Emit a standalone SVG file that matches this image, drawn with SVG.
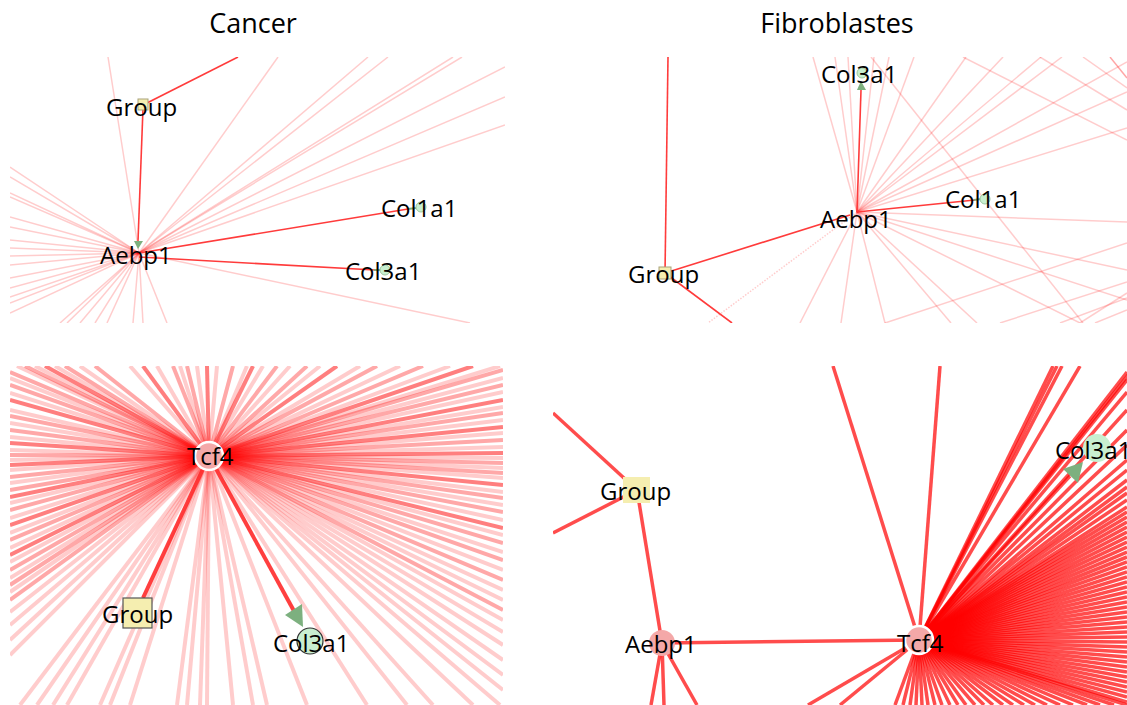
<svg xmlns="http://www.w3.org/2000/svg" width="1127" height="705" viewBox="0 0 1127 705">
<style>
.lbl{font-family:"Open Sans","Liberation Sans",sans-serif;font-size:24px;fill:#000}
.ttl{font-family:"Open Sans","Liberation Sans",sans-serif;font-size:27px;fill:#000;text-anchor:middle}
.lt{stroke:#ff0000;stroke-opacity:.2;stroke-width:1.5;fill:none}
.st{stroke:#ff3b3b;stroke-width:1.6;fill:none}
.ta{stroke:#ff0000;stroke-opacity:.2;stroke-width:4}
.tb{stroke:#ff0000;stroke-opacity:.34;stroke-width:4}
.tc{stroke:#ff0000;stroke-opacity:.5;stroke-width:4}
.ts{stroke:#ff2a2a;stroke-opacity:.9;stroke-width:4}
.p4{stroke:#ff0000;stroke-opacity:.7;stroke-width:3.5}
.grp{fill:#f5eeb0}
.gene{fill:#c8efd0}
.hub{fill:#f4a8a8}
.arr{fill:#7db07f}
</style>
<defs>
<clipPath id="c1"><rect x="10" y="57" width="495" height="266"/></clipPath>
<clipPath id="c2"><rect x="553" y="57" width="574" height="266"/></clipPath>
<clipPath id="c3"><rect x="10" y="366" width="493" height="339"/></clipPath>
<clipPath id="c4"><rect x="553" y="366" width="574" height="339"/></clipPath>
</defs>
<rect width="1127" height="705" fill="#fff"/>
<text class="ttl" x="253" y="33">Cancer</text>
<text class="ttl" x="837" y="33">Fibroblastes</text>

<!-- Panel 1 connectors -->
<g id="p1-connectors" clip-path="url(#c1)">
<g class="lt">
<line x1="139" y1="253" x2="108" y2="57"/><line x1="139" y1="253" x2="278" y2="57"/>
<line x1="139" y1="253" x2="368" y2="57"/><line x1="139" y1="253" x2="388" y2="57"/>
<line x1="139" y1="253" x2="453" y2="57"/><line x1="139" y1="253" x2="462" y2="57"/>
<line x1="139" y1="253" x2="505" y2="67"/><line x1="139" y1="253" x2="505" y2="97"/>
<line x1="139" y1="253" x2="505" y2="125"/>
<line x1="139" y1="253" x2="10" y2="167"/><line x1="139" y1="253" x2="10" y2="177"/>
<line x1="139" y1="253" x2="10" y2="193"/><line x1="139" y1="253" x2="10" y2="197"/>
<line x1="139" y1="253" x2="10" y2="217"/><line x1="139" y1="253" x2="10" y2="227"/>
<line x1="139" y1="253" x2="10" y2="240"/><line x1="139" y1="253" x2="10" y2="248"/>
<line x1="139" y1="253" x2="10" y2="256"/><line x1="139" y1="253" x2="10" y2="265"/>
<line x1="139" y1="253" x2="10" y2="278"/><line x1="139" y1="253" x2="10" y2="288"/>
<line x1="139" y1="253" x2="10" y2="297"/><line x1="139" y1="253" x2="10" y2="303"/>
<line x1="139" y1="253" x2="10" y2="313"/>
<line x1="139" y1="253" x2="60" y2="323"/><line x1="139" y1="253" x2="67" y2="323"/>
<line x1="139" y1="253" x2="80" y2="323"/><line x1="139" y1="253" x2="95" y2="323"/>
<line x1="139" y1="253" x2="107" y2="323"/><line x1="139" y1="253" x2="133" y2="323"/>
<line x1="139" y1="253" x2="143" y2="323"/><line x1="139" y1="253" x2="167" y2="323"/>
<line x1="139" y1="253" x2="470" y2="323"/>
</g>
<line class="st" x1="143" y1="105" x2="238" y2="57"/>
<line class="st" x1="143" y1="108" x2="138" y2="241"/>
<line class="st" x1="139" y1="253" x2="408" y2="209"/>
<line class="st" x1="139" y1="257" x2="375" y2="270"/>
<polygon class="arr" points="134,241 143,241 138,249"/>
<line x1="408" y1="209" x2="416" y2="208" stroke="#7db07f" stroke-width="2"/>
<line x1="374" y1="270" x2="381" y2="270" stroke="#7db07f" stroke-width="2"/>
</g>
<g id="p1-group"><rect class="grp" x="138" y="99" width="10" height="11" stroke="#a9a27a" stroke-width="1"/><text class="lbl" x="106" y="116">Group</text></g>
<g id="p1-aebp1"><text class="lbl" x="100" y="264">Aebp1</text></g>
<g id="p1-col1a1"><circle class="gene" cx="421" cy="207" r="5" stroke="#9cc79f" stroke-width="1"/><text class="lbl" x="381" y="217">Col1a1</text></g>
<g id="p1-col3a1"><circle class="gene" cx="385" cy="270" r="5" stroke="#9cc79f" stroke-width="1"/><text class="lbl" x="345" y="280">Col3a1</text></g>

<!-- Panel 2 connectors -->
<g id="p2-connectors" clip-path="url(#c2)">
<g class="lt">
<line x1="857" y1="212" x2="813" y2="57"/><line x1="857" y1="212" x2="835" y2="57"/>
<line x1="857" y1="212" x2="848" y2="57"/><line x1="857" y1="212" x2="874" y2="57"/>
<line x1="857" y1="212" x2="889" y2="57"/><line x1="857" y1="212" x2="914" y2="57"/>
<line x1="857" y1="212" x2="966" y2="57"/><line x1="857" y1="212" x2="1003" y2="57"/>
<line x1="857" y1="212" x2="1041" y2="57"/><line x1="857" y1="212" x2="1062" y2="57"/>
<line x1="857" y1="212" x2="1127" y2="62"/><line x1="857" y1="212" x2="1127" y2="92"/>
<line x1="857" y1="212" x2="1127" y2="128"/><line x1="857" y1="212" x2="1127" y2="222"/>
<line x1="857" y1="212" x2="1127" y2="270"/><line x1="857" y1="212" x2="1127" y2="300"/>
<line x1="857" y1="212" x2="1080" y2="323"/><line x1="857" y1="212" x2="977" y2="323"/>
<line x1="857" y1="212" x2="951" y2="323"/><line x1="857" y1="212" x2="885" y2="323"/>
<line x1="857" y1="212" x2="841" y2="323"/><line x1="857" y1="212" x2="800" y2="323"/>
<line x1="963" y1="57" x2="1127" y2="140"/><line x1="1040" y1="57" x2="1127" y2="110"/>
<line x1="1083" y1="57" x2="1127" y2="88"/><line x1="871" y1="57" x2="1083" y2="323"/>
<line x1="885" y1="323" x2="1127" y2="243"/><line x1="1000" y1="323" x2="1127" y2="282"/>
<line x1="1060" y1="323" x2="1127" y2="298"/><line x1="1095" y1="323" x2="1127" y2="310"/>
<line x1="1080" y1="323" x2="1127" y2="293"/>
</g>
<line class="lt" x1="857" y1="212" x2="708" y2="323" stroke-dasharray="1.5 1.5"/>
<line x1="1110" y1="57" x2="1127" y2="78" stroke="#ff0000" stroke-opacity=".35" stroke-width="1.5"/>
<line class="st" x1="665" y1="273" x2="668" y2="57"/>
<line class="st" x1="665" y1="273" x2="850" y2="215"/>
<line class="st" x1="665" y1="273" x2="732" y2="323"/>
<line class="st" x1="857" y1="212" x2="861" y2="90"/>
<line class="st" x1="857" y1="212" x2="975" y2="200"/>
<polygon class="arr" points="857,90 866,90 861,81"/>
<line x1="974" y1="200" x2="981" y2="199" stroke="#7db07f" stroke-width="2"/>
</g>
<g id="p2-group"><rect class="grp" x="659" y="267" width="12" height="12" stroke="#a9a27a" stroke-width="1"/><text class="lbl" x="628" y="283">Group</text></g>
<g id="p2-aebp1"><text class="lbl" x="820" y="228">Aebp1</text></g>
<g id="p2-col1a1"><circle class="gene" cx="985" cy="199" r="5" stroke="#9cc79f" stroke-width="1"/><text class="lbl" x="945" y="208">Col1a1</text></g>
<g id="p2-col3a1"><circle class="gene" cx="862" cy="73" r="5" stroke="#9cc79f" stroke-width="1"/><text class="lbl" x="821" y="83">Col3a1</text></g>

<!-- Panel 3 connectors -->
<g id="p3-connectors" clip-path="url(#c3)">
<line class="ta" x1="209" y1="456" x2="17" y2="366"/><line class="tb" x1="209" y1="456" x2="25" y2="366"/>
<line class="ta" x1="209" y1="456" x2="35" y2="366"/><line class="tc" x1="209" y1="456" x2="45" y2="366"/>
<line class="ta" x1="209" y1="456" x2="55" y2="366"/><line class="tb" x1="209" y1="456" x2="65" y2="366"/>
<line class="ta" x1="209" y1="456" x2="80" y2="366"/><line class="tb" x1="209" y1="456" x2="95" y2="366"/>
<line class="ta" x1="209" y1="456" x2="130" y2="366"/><line class="tc" x1="209" y1="456" x2="143" y2="366"/>
<line class="ta" x1="209" y1="456" x2="157" y2="366"/><line class="tb" x1="209" y1="456" x2="173" y2="366"/>
<line class="ta" x1="209" y1="456" x2="180" y2="366"/><line class="tb" x1="209" y1="456" x2="187" y2="366"/>
<line class="ta" x1="209" y1="456" x2="197" y2="366"/><line class="tc" x1="209" y1="456" x2="207" y2="366"/>
<line class="ta" x1="209" y1="456" x2="217" y2="366"/><line class="tb" x1="209" y1="456" x2="233" y2="366"/>
<line class="ta" x1="209" y1="456" x2="247" y2="366"/><line class="tc" x1="209" y1="456" x2="253" y2="366"/>
<line class="ta" x1="209" y1="456" x2="263" y2="366"/><line class="tb" x1="209" y1="456" x2="277" y2="366"/>
<line class="ta" x1="209" y1="456" x2="290" y2="366"/><line class="tb" x1="209" y1="456" x2="307" y2="366"/>
<line class="ta" x1="209" y1="456" x2="320" y2="366"/><line class="tc" x1="209" y1="456" x2="337" y2="366"/>
<line class="ta" x1="209" y1="456" x2="360" y2="366"/><line class="tb" x1="209" y1="456" x2="377" y2="366"/>
<line class="ta" x1="209" y1="456" x2="400" y2="366"/><line class="tb" x1="209" y1="456" x2="423" y2="366"/>
<line class="ta" x1="209" y1="456" x2="450" y2="366"/><line class="tc" x1="209" y1="456" x2="473" y2="366"/>
<line class="ta" x1="209" y1="456" x2="500" y2="366"/>
<line class="tb" x1="209" y1="456" x2="10" y2="372"/><line class="ta" x1="209" y1="456" x2="10" y2="378"/>
<line class="tb" x1="209" y1="456" x2="10" y2="385"/><line class="ta" x1="209" y1="456" x2="10" y2="393"/>
<line class="tc" x1="209" y1="456" x2="10" y2="400"/><line class="ta" x1="209" y1="456" x2="10" y2="410"/>
<line class="tb" x1="209" y1="456" x2="10" y2="416"/><line class="ta" x1="209" y1="456" x2="10" y2="423"/>
<line class="tb" x1="209" y1="456" x2="10" y2="430"/><line class="ta" x1="209" y1="456" x2="10" y2="437"/>
<line class="tc" x1="209" y1="456" x2="10" y2="443"/><line class="ta" x1="209" y1="456" x2="10" y2="450"/>
<line class="tb" x1="209" y1="456" x2="10" y2="455"/><line class="ta" x1="209" y1="456" x2="10" y2="460"/>
<line class="tc" x1="209" y1="456" x2="10" y2="465"/><line class="ta" x1="209" y1="456" x2="10" y2="470"/>
<line class="tb" x1="209" y1="456" x2="10" y2="477"/><line class="ta" x1="209" y1="456" x2="10" y2="483"/>
<line class="tb" x1="209" y1="456" x2="10" y2="490"/><line class="tc" x1="209" y1="456" x2="10" y2="497"/>
<line class="ta" x1="209" y1="456" x2="10" y2="503"/><line class="tb" x1="209" y1="456" x2="10" y2="510"/>
<line class="ta" x1="209" y1="456" x2="10" y2="518"/><line class="tc" x1="209" y1="456" x2="10" y2="525"/>
<line class="ta" x1="209" y1="456" x2="10" y2="533"/><line class="tb" x1="209" y1="456" x2="10" y2="540"/>
<line class="ta" x1="209" y1="456" x2="10" y2="548"/><line class="tc" x1="209" y1="456" x2="10" y2="555"/>
<line class="ta" x1="209" y1="456" x2="10" y2="562"/><line class="tb" x1="209" y1="456" x2="10" y2="570"/>
<line class="ta" x1="209" y1="456" x2="10" y2="578"/><line class="tb" x1="209" y1="456" x2="10" y2="585"/>
<line class="ta" x1="209" y1="456" x2="10" y2="592"/><line class="tb" x1="209" y1="456" x2="10" y2="600"/>
<line class="ta" x1="209" y1="456" x2="10" y2="612"/><line class="ta" x1="209" y1="456" x2="10" y2="625"/>
<line class="ta" x1="209" y1="456" x2="10" y2="640"/><line class="ta" x1="209" y1="456" x2="10" y2="655"/>
<line class="ta" x1="209" y1="456" x2="20" y2="705"/><line class="ta" x1="209" y1="456" x2="37" y2="705"/>
<line class="ta" x1="209" y1="456" x2="53" y2="705"/><line class="ta" x1="209" y1="456" x2="67" y2="705"/>
<line class="ta" x1="209" y1="456" x2="100" y2="705"/><line class="ta" x1="209" y1="456" x2="110" y2="705"/>
<line class="ta" x1="209" y1="456" x2="130" y2="705"/><line class="ta" x1="209" y1="456" x2="177" y2="705"/>
<line class="ta" x1="209" y1="456" x2="187" y2="705"/><line class="ta" x1="209" y1="456" x2="200" y2="705"/>
<line class="ta" x1="209" y1="456" x2="207" y2="705"/><line class="ta" x1="209" y1="456" x2="233" y2="705"/>
<line class="ta" x1="209" y1="456" x2="253" y2="705"/><line class="ta" x1="209" y1="456" x2="267" y2="705"/>
<line class="ta" x1="209" y1="456" x2="307" y2="705"/><line class="ta" x1="209" y1="456" x2="367" y2="705"/>
<line class="ta" x1="209" y1="456" x2="407" y2="705"/><line class="ta" x1="209" y1="456" x2="433" y2="705"/>
<line class="ta" x1="209" y1="456" x2="473" y2="705"/><line class="ta" x1="209" y1="456" x2="500" y2="705"/>
<line class="tb" x1="209" y1="456" x2="503" y2="370"/><line class="ta" x1="209" y1="456" x2="503" y2="378"/>
<line class="tb" x1="209" y1="456" x2="503" y2="385"/><line class="ta" x1="209" y1="456" x2="503" y2="392"/>
<line class="tc" x1="209" y1="456" x2="503" y2="400"/><line class="ta" x1="209" y1="456" x2="503" y2="407"/>
<line class="tb" x1="209" y1="456" x2="503" y2="413"/><line class="ta" x1="209" y1="456" x2="503" y2="420"/>
<line class="tc" x1="209" y1="456" x2="503" y2="427"/><line class="ta" x1="209" y1="456" x2="503" y2="433"/>
<line class="tb" x1="209" y1="456" x2="503" y2="440"/><line class="ta" x1="209" y1="456" x2="503" y2="447"/>
<line class="tc" x1="209" y1="456" x2="503" y2="453"/><line class="ta" x1="209" y1="456" x2="503" y2="458"/>
<line class="tb" x1="209" y1="456" x2="503" y2="463"/><line class="ta" x1="209" y1="456" x2="503" y2="468"/>
<line class="tb" x1="209" y1="456" x2="503" y2="473"/><line class="ta" x1="209" y1="456" x2="503" y2="478"/>
<line class="tc" x1="209" y1="456" x2="503" y2="485"/><line class="ta" x1="209" y1="456" x2="503" y2="492"/>
<line class="tb" x1="209" y1="456" x2="503" y2="498"/><line class="ta" x1="209" y1="456" x2="503" y2="505"/>
<line class="tb" x1="209" y1="456" x2="503" y2="512"/><line class="ta" x1="209" y1="456" x2="503" y2="520"/>
<line class="tc" x1="209" y1="456" x2="503" y2="528"/><line class="ta" x1="209" y1="456" x2="503" y2="535"/>
<line class="tb" x1="209" y1="456" x2="503" y2="543"/><line class="ta" x1="209" y1="456" x2="503" y2="552"/>
<line class="tb" x1="209" y1="456" x2="503" y2="560"/><line class="ta" x1="209" y1="456" x2="503" y2="570"/>
<line class="tb" x1="209" y1="456" x2="503" y2="580"/><line class="ta" x1="209" y1="456" x2="503" y2="590"/>
<line class="ta" x1="209" y1="456" x2="503" y2="600"/><line class="tb" x1="209" y1="456" x2="503" y2="610"/>
<line class="ta" x1="209" y1="456" x2="503" y2="620"/><line class="ta" x1="209" y1="456" x2="503" y2="632"/>
<line class="ta" x1="209" y1="456" x2="503" y2="645"/><line class="ta" x1="209" y1="456" x2="503" y2="660"/>
<line class="ta" x1="209" y1="456" x2="503" y2="675"/><line class="ta" x1="209" y1="456" x2="503" y2="690"/>
<line class="ts" x1="209" y1="456" x2="143" y2="598"/>
<line class="ts" x1="209" y1="456" x2="294" y2="611"/>
<polygon class="arr" points="285,615 302,604 303,627"/>
</g>
<g id="p3-tcf4"><circle class="hub" cx="209" cy="456" r="14" stroke="#fff" stroke-width="2.5"/><text class="lbl" x="187" y="465">Tcf4</text></g>
<g id="p3-group"><rect class="grp" x="123" y="598" width="29" height="30" stroke="#555" stroke-width="1.2"/><text class="lbl" x="102" y="623">Group</text></g>
<g id="p3-col3a1"><circle class="gene" cx="310" cy="641" r="13" stroke="#333" stroke-width="1.2"/><text class="lbl" x="273" y="652">Col3a1</text></g>

<!-- Panel 4 connectors -->
<g id="p4-connectors" clip-path="url(#c4)">
<g class="p4">
<line x1="553" y1="413" x2="637" y2="490"/><line x1="553" y1="533" x2="637" y2="490"/>
<line x1="637" y1="490" x2="662" y2="643"/><line x1="662" y1="643" x2="919" y2="640"/>
<line x1="662" y1="643" x2="651" y2="705"/><line x1="662" y1="643" x2="664" y2="705"/>
<line x1="662" y1="643" x2="697" y2="705"/>
<line x1="919" y1="640" x2="833" y2="366"/><line x1="919" y1="640" x2="940" y2="366"/>
<line x1="919" y1="640" x2="808" y2="705"/><line x1="919" y1="640" x2="840" y2="705"/>
<line x1="919" y1="640" x2="1053" y2="366"/><line x1="919" y1="640" x2="1057" y2="366"/>
<line x1="919" y1="640" x2="1062" y2="366"/><line x1="919" y1="640" x2="1080" y2="366"/>
<line x1="919" y1="640" x2="1140" y2="360"/><line x1="919" y1="640" x2="1127" y2="372"/>
<line x1="919" y1="640" x2="1127" y2="380"/><line x1="919" y1="640" x2="1127" y2="392"/>
<line x1="919" y1="640" x2="1127" y2="410"/><line x1="919" y1="640" x2="1127" y2="430"/>
<line x1="919" y1="640" x2="1127" y2="445"/><line x1="919" y1="640" x2="1127" y2="460"/>
<line x1="919" y1="640" x2="1127" y2="470"/><line x1="919" y1="640" x2="1127" y2="480"/>
<line x1="919" y1="640" x2="1127" y2="487"/>
<line x1="919" y1="640" x2="1127" y2="493"/><line x1="919" y1="640" x2="1127" y2="500"/>
<line x1="919" y1="640" x2="1127" y2="507"/><line x1="919" y1="640" x2="1127" y2="512"/>
<line x1="919" y1="640" x2="1127" y2="517"/><line x1="919" y1="640" x2="1127" y2="522"/>
<line x1="919" y1="640" x2="1127" y2="527"/><line x1="919" y1="640" x2="1127" y2="532"/>
<line x1="919" y1="640" x2="1127" y2="537"/><line x1="919" y1="640" x2="1127" y2="542"/>
<line x1="919" y1="640" x2="1127" y2="547"/><line x1="919" y1="640" x2="1127" y2="552"/>
<line x1="919" y1="640" x2="1127" y2="557"/><line x1="919" y1="640" x2="1127" y2="562"/>
<line x1="919" y1="640" x2="1127" y2="567"/><line x1="919" y1="640" x2="1127" y2="572"/>
<line x1="919" y1="640" x2="1127" y2="577"/><line x1="919" y1="640" x2="1127" y2="582"/>
<line x1="919" y1="640" x2="1127" y2="587"/><line x1="919" y1="640" x2="1127" y2="592"/>
<line x1="919" y1="640" x2="1127" y2="597"/><line x1="919" y1="640" x2="1127" y2="602"/>
<line x1="919" y1="640" x2="1127" y2="607"/><line x1="919" y1="640" x2="1127" y2="612"/>
<line x1="919" y1="640" x2="1127" y2="617"/><line x1="919" y1="640" x2="1127" y2="622"/>
<line x1="919" y1="640" x2="1127" y2="627"/><line x1="919" y1="640" x2="1127" y2="632"/>
<line x1="919" y1="640" x2="1127" y2="637"/><line x1="919" y1="640" x2="1127" y2="642"/>
<line x1="919" y1="640" x2="1127" y2="647"/><line x1="919" y1="640" x2="1127" y2="652"/>
<line x1="919" y1="640" x2="1127" y2="657"/><line x1="919" y1="640" x2="1127" y2="662"/>
<line x1="919" y1="640" x2="1127" y2="667"/><line x1="919" y1="640" x2="1127" y2="672"/>
<line x1="919" y1="640" x2="1127" y2="677"/><line x1="919" y1="640" x2="1127" y2="682"/>
<line x1="919" y1="640" x2="1127" y2="687"/><line x1="919" y1="640" x2="1127" y2="692"/>
<line x1="919" y1="640" x2="1127" y2="697"/><line x1="919" y1="640" x2="1127" y2="702"/>
<line x1="919" y1="640" x2="895" y2="705"/><line x1="919" y1="640" x2="903" y2="705"/>
<line x1="919" y1="640" x2="910" y2="705"/><line x1="919" y1="640" x2="916" y2="705"/>
<line x1="919" y1="640" x2="922" y2="705"/><line x1="919" y1="640" x2="928" y2="705"/>
<line x1="919" y1="640" x2="935" y2="705"/><line x1="919" y1="640" x2="942" y2="705"/>
<line x1="919" y1="640" x2="950" y2="705"/><line x1="919" y1="640" x2="958" y2="705"/>
<line x1="919" y1="640" x2="966" y2="705"/><line x1="919" y1="640" x2="975" y2="705"/>
<line x1="919" y1="640" x2="984" y2="705"/><line x1="919" y1="640" x2="993" y2="705"/>
<line x1="919" y1="640" x2="1003" y2="705"/><line x1="919" y1="640" x2="1013" y2="705"/>
<line x1="919" y1="640" x2="1024" y2="705"/><line x1="919" y1="640" x2="1035" y2="705"/>
<line x1="919" y1="640" x2="1047" y2="705"/><line x1="919" y1="640" x2="1060" y2="705"/>
<line x1="919" y1="640" x2="1073" y2="705"/><line x1="919" y1="640" x2="1087" y2="705"/>
<line x1="919" y1="640" x2="1100" y2="705"/><line x1="919" y1="640" x2="1114" y2="705"/>
<line x1="919" y1="640" x2="1127" y2="705"/>
<line x1="919" y1="640" x2="1070" y2="476"/>
</g>
<polygon class="arr" points="1063,469 1083,462 1078,483"/>
</g>
<g id="p4-group"><rect class="grp" x="623" y="477" width="27" height="26"/><text class="lbl" x="600" y="500">Group</text></g>
<g id="p4-aebp1"><circle class="hub" cx="662" cy="643" r="13"/><text class="lbl" x="625" y="653">Aebp1</text></g>
<g id="p4-tcf4"><circle class="hub" cx="919" cy="640" r="14" stroke="#fff" stroke-width="2.5"/><text class="lbl" x="897" y="652">Tcf4</text></g>
<g id="p4-col3a1"><circle class="gene" cx="1097" cy="448" r="14"/><text class="lbl" x="1055" y="459">Col3a1</text></g>
</svg>
